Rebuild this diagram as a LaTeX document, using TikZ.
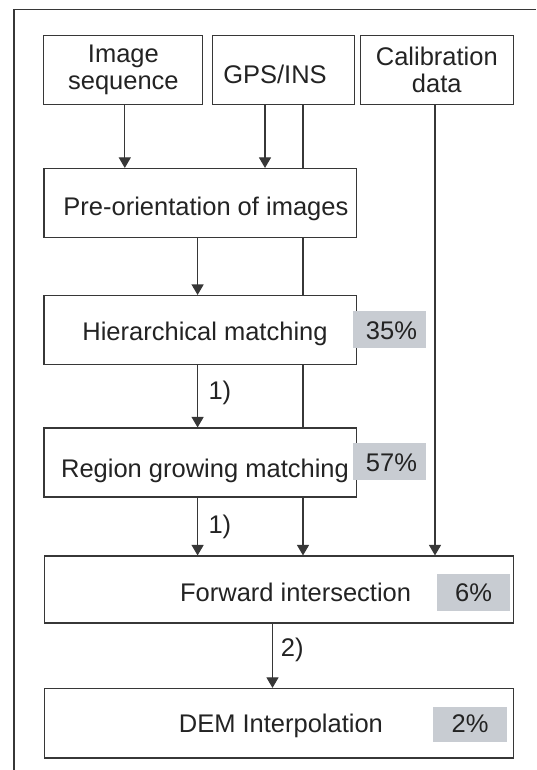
\documentclass[tikz,border=0pt]{standalone}
\usepackage{fontspec}
\setmainfont{Liberation Sans}
\usetikzlibrary{arrows.meta,backgrounds}
\definecolor{ink}{RGB}{35,35,35}
\definecolor{linec}{RGB}{55,55,55}
\definecolor{pct}{RGB}{200,204,210}
\begin{document}
\begin{tikzpicture}[x=1pt,y=-1pt,
  txtfont/.style={font=\fontsize{25.5}{27.3}\selectfont},
  box/.style={draw=linec, line width=1.1pt, fill=white, inner sep=0pt, text=ink, txtfont},
  pctbox/.style={fill=pct, inner sep=0pt, text=ink, txtfont, text depth=0pt},
  arr/.style={draw=linec, line width=1.1pt, -{Triangle[width=12pt,length=10.5pt]}},
  lbl/.style={anchor=west, inner sep=0pt, text=ink, txtfont, text height=18.4pt, text depth=0pt}]
\useasboundingbox (0,0) rectangle (536,770);
% column coordinates
\coordinate (cA) at (124.8,0);
\coordinate (cB) at (265,0);
\coordinate (cC) at (303,0);
\coordinate (cD) at (435,0);
\coordinate (cE) at (197.6,0);
\coordinate (cF) at (272.5,0);
% boxes
\node[box, minimum width=159pt, minimum height=69pt, align=center] (img) at (123.4,69.7) {Image\\sequence};
\node[box, minimum width=142.5pt, minimum height=69pt, text height=28.2pt, text depth=0pt] (gps) at (283.3,69.7) {GPS/INS\hspace*{16.6pt}};
\node[box, minimum width=153.5pt, minimum height=69pt, align=center] (cal) at (436.8,69.7) {Calibration\\data};
\node[box, minimum width=312.6pt, minimum height=69pt, text height=24.8pt, text depth=0pt] (pre) at (200.3,203) {\hspace*{11.2pt}Pre-orientation of images};
\node[box, minimum width=312.6pt, minimum height=69pt, text height=21.2pt, text depth=0pt] (hier) at (200.3,330) {\hspace*{9.4pt}Hierarchical matching};
\node[box, minimum width=312.6pt, minimum height=69pt, text height=29.8pt, text depth=0pt] (reg) at (200.3,462.5) {\hspace*{9.4pt}Region growing matching};
\node[box, minimum width=469.5pt, minimum height=67pt, text height=23pt, text depth=0pt] (fwd) at (278.8,589.5) {\hspace*{33.6pt}Forward intersection};
\node[box, minimum width=469.5pt, minimum height=69.5pt, text height=18.8pt, text depth=0pt] (dem) at (278.8,723.2) {\hspace*{4.2pt}DEM Interpolation};
% percentages
\node[pctbox, minimum width=73pt, minimum height=37pt, text height=20.2pt] (p35) at (389.5,329.5) {\hspace*{4pt}35\%};
\node[pctbox, minimum width=73pt, minimum height=37pt, text height=20pt] (p57) at (389.5,461.5) {\hspace*{4pt}57\%};
\node[pctbox, minimum width=73pt, minimum height=37.3pt, text height=17.2pt] (p6) at (473.5,592.4) {6\%};
\node[pctbox, minimum width=73.2pt, minimum height=35.5pt, text height=16.4pt] (p2) at (470,724.4) {2\%};
% connectors and frame
\begin{scope}[on background layer]
\draw[draw=linec, line width=1.1pt] (14,770) -- (14,9.8) -- (536,9.8);
\draw[arr] (img.south -| cA) -- (pre.north -| cA);
\draw[arr] (gps.south -| cB) -- (pre.north -| cB);
\draw[arr] (gps.south -| cC) -- (fwd.north -| cC);
\draw[arr] (cal.south -| cD) -- (fwd.north -| cD);
\draw[arr] (pre.south -| cE) -- (hier.north -| cE);
\draw[arr] (hier.south -| cE) -- node[lbl, pos=0.41, xshift=10.4pt] {1)} (reg.north -| cE);
\draw[arr] (reg.south -| cE) -- node[lbl, pos=0.46, xshift=10.4pt] {1)} (fwd.north -| cE);
\draw[arr] (fwd.south -| cF) -- node[lbl, pos=0.37, xshift=7.8pt] {2)} (dem.north -| cF);
\end{scope}
\end{tikzpicture}
\end{document}
